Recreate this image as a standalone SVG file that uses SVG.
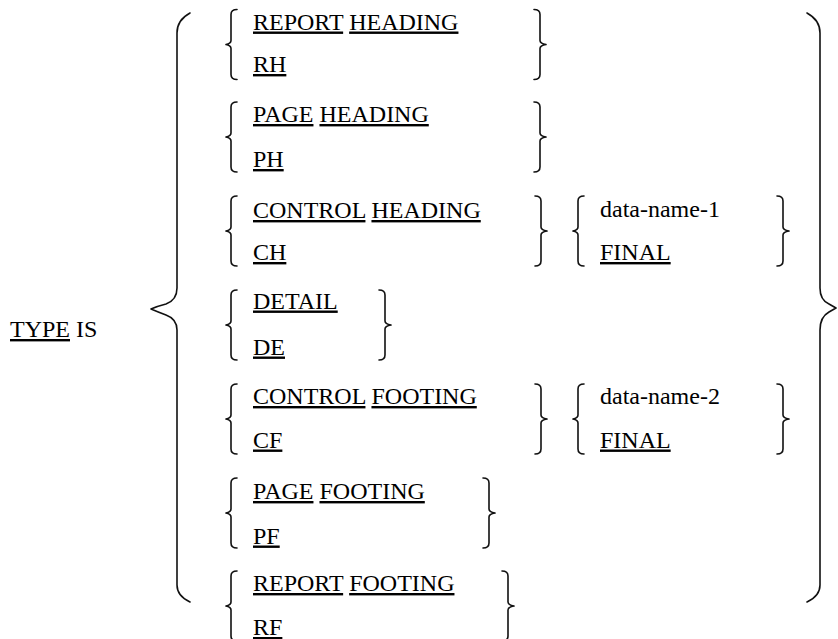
<svg xmlns="http://www.w3.org/2000/svg" xmlns:xlink="http://www.w3.org/1999/xlink" width="838" height="639" viewBox="0 0 838 639">
<style>
.t{font-family:'Liberation Serif','Times New Roman',serif;font-size:24px;fill:#000}
.u{text-decoration:underline}
.br{fill:none;stroke:#111;stroke-width:1.6;stroke-linejoin:round;stroke-linecap:round}
</style>
<defs>
<path id="lb" class="br" d="M6,0 Q0,0 0,5 V31 Q0,34 -5,35 Q0,36 0,39 V65 Q0,70 6,70"/>
<path id="rb" class="br" d="M-6,0 Q0,0 0,5 V31 Q0,34 6,35 Q0,36 0,39 V65 Q0,70 -6,70"/>
</defs>
<rect width="838" height="639" fill="#fff"/>
<g id="connectors">
<path id="big-left" class="br" d="M190,13 Q177,20 177,33 V288 Q177,300 166,304 Q158,306 151,309 Q158,312 166,315 Q177,319 177,330 V585 Q177,596 190,602"/>
<path id="big-right" class="br" d="M807,13 Q820,20 820,33 V288 Q820,300 829,304 L836,308 L829,312 Q820,317 820,330 V585 Q820,596 807,602"/>
</g>
<g id="type-is"><text class="t" x="10" y="337"><tspan class="u">TYPE</tspan> IS</text></g>
<g id="report-heading">
<use xlink:href="#lb" x="231" y="9.5"/><use xlink:href="#rb" x="540" y="9.5"/>
<text class="t" x="253" y="29.5"><tspan class="u">REPORT</tspan> <tspan class="u">HEADING</tspan></text>
<text class="t" x="253" y="72"><tspan class="u">RH</tspan></text>
</g>
<g id="page-heading">
<use xlink:href="#lb" x="231" y="102"/><use xlink:href="#rb" x="540" y="102"/>
<text class="t" x="253" y="122"><tspan class="u">PAGE</tspan> <tspan class="u">HEADING</tspan></text>
<text class="t" x="253" y="167"><tspan class="u">PH</tspan></text>
</g>
<g id="control-heading">
<use xlink:href="#lb" x="231" y="196"/><use xlink:href="#rb" x="541" y="196"/>
<text class="t" x="253" y="218"><tspan class="u">CONTROL</tspan> <tspan class="u">HEADING</tspan></text>
<text class="t" x="253" y="260"><tspan class="u">CH</tspan></text>
</g>
<g id="data-name-1-choice">
<use xlink:href="#lb" x="578" y="196"/><use xlink:href="#rb" x="783" y="196"/>
<text class="t" x="600" y="217">data-name-1</text>
<text class="t" x="600" y="260"><tspan class="u">FINAL</tspan></text>
</g>
<g id="detail">
<use xlink:href="#lb" x="231" y="290"/><use xlink:href="#rb" x="385" y="290"/>
<text class="t" x="253" y="308.5"><tspan class="u">DETAIL</tspan></text>
<text class="t" x="253" y="354.5"><tspan class="u">DE</tspan></text>
</g>
<g id="control-footing">
<use xlink:href="#lb" x="231" y="384"/><use xlink:href="#rb" x="541" y="384"/>
<text class="t" x="253" y="404"><tspan class="u">CONTROL</tspan> <tspan class="u">FOOTING</tspan></text>
<text class="t" x="253" y="447.5"><tspan class="u">CF</tspan></text>
</g>
<g id="data-name-2-choice">
<use xlink:href="#lb" x="578" y="384"/><use xlink:href="#rb" x="783" y="384"/>
<text class="t" x="600" y="403.5">data-name-2</text>
<text class="t" x="600" y="447.5"><tspan class="u">FINAL</tspan></text>
</g>
<g id="page-footing">
<use xlink:href="#lb" x="231" y="478"/><use xlink:href="#rb" x="489" y="478"/>
<text class="t" x="253" y="499"><tspan class="u">PAGE</tspan> <tspan class="u">FOOTING</tspan></text>
<text class="t" x="253" y="543.5"><tspan class="u">PF</tspan></text>
</g>
<g id="report-footing">
<use xlink:href="#lb" x="231" y="571"/><use xlink:href="#rb" x="508" y="571"/>
<text class="t" x="253" y="591"><tspan class="u">REPORT</tspan> <tspan class="u">FOOTING</tspan></text>
<text class="t" x="253" y="635"><tspan class="u">RF</tspan></text>
</g>
</svg>
